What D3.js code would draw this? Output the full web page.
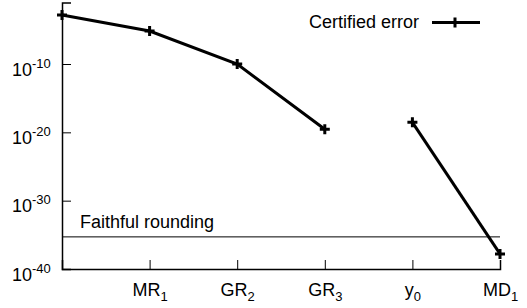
<!DOCTYPE html>
<html>
<head>
<meta charset="utf-8">
<script src="https://cdn.jsdelivr.net/npm/d3@7"></script>
<style>
  body { margin: 0; background: #fff; }
  text { font-family: "Liberation Sans", Arial, sans-serif; }
</style>
</head>
<body>
<script>
// chart data
let catBase = ["", "MR", "GR", "GR", "y", "MD"];
let catSub = ["", "1", "2", "3", "0", "1"];
let certError = [1.5e-3, 6.8e-6, 1e-10, 2.8e-20, 2.9e-19, 1.6e-38];
let segment = [0, 0, 0, 0, 1, 1];
let faithful = 5e-36;
let yTicks = [1e-10, 1e-20, 1e-30, 1e-40];
let yTickExp = ["-10", "-20", "-30", "-40"];

let W = 527, H = 308;
let fs = 18;

let svg = d3.select("body")
  .append("svg")
    .attr("width", W)
    .attr("height", H);

let x = d3.scalePoint()
  .domain(d3.range(catBase.length))
  .range([62, 500]);

let y = d3.scaleLog()
  .domain([1e-40, 1e-1])
  .range([269, 2.5]);

// x axis
let xAxis = svg.append("g")
  .attr("transform", "translate(0," + y(1e-40) + ")")
  .call(d3.axisBottom(x).tickValues(d3.range(1, catBase.length)).tickSize(-9).tickPadding(10).tickFormat(""));

xAxis.selectAll(".tick text").each(function(d) {
  let t = d3.select(this).attr("font-size", fs).attr("fill", "#000").attr("dy", "0.92em");
  t.append("tspan").text(catBase[d]);
  t.append("tspan").attr("font-size", 13).attr("dy", 5).text(catSub[d]);
});

// y axis
let yAxis = svg.append("g")
  .attr("transform", "translate(" + x(0) + ",0)")
  .call(d3.axisLeft(y).tickValues(yTicks).tickSize(-9).tickPadding(17).tickFormat(""));

yAxis.selectAll(".tick text").each(function(d, i) {
  let t = d3.select(this).attr("font-size", fs).attr("fill", "#000").attr("dy", "0.62em")
    .attr("text-anchor", "start").attr("x", -50);
  t.append("tspan").text("10");
  t.append("tspan").attr("font-size", 13).attr("dy", -8).text(yTickExp[i]);
});

svg.selectAll(".domain").attr("stroke", "#000").attr("stroke-width", 1.5);
svg.selectAll(".tick line").attr("stroke", "#000").attr("stroke-width", 1);
yAxis.selectAll(".tick").filter(d => d === 1e-40).select("line").remove();

// faithful rounding
svg.append("line")
  .attr("x1", x(0)).attr("x2", x(catBase.length - 1))
  .attr("y1", y(faithful)).attr("y2", y(faithful))
  .attr("stroke", "#000").attr("stroke-width", 1);

svg.append("text")
  .attr("x", 80).attr("y", y(faithful) - 9)
  .attr("font-size", fs)
  .text("Faithful rounding");

// certified error lines
let pts = certError.map((v, i) => ({ i: i, v: v, s: segment[i] }));
let line = d3.line()
  .x(d => x(d.i))
  .y(d => y(d.v));

d3.groups(pts, d => d.s).forEach(([k, g]) => {
  svg.append("path")
    .attr("d", line(g))
    .attr("fill", "none")
    .attr("stroke", "#000")
    .attr("stroke-width", 3);
});

function drawPlus(cx, cy) {
  svg.append("path")
    .attr("d", "M-5,0H5M0,-5V5")
    .attr("transform", "translate(" + cx + "," + cy + ")")
    .attr("stroke", "#000")
    .attr("stroke-width", 3);
}
pts.forEach(d => drawPlus(x(d.i), y(d.v)));

// legend
svg.append("text")
  .attr("x", 309).attr("y", 28)
  .attr("font-size", fs)
  .text("Certified error");
svg.append("line")
  .attr("x1", 432).attr("x2", 480)
  .attr("y1", 22.5).attr("y2", 22.5)
  .attr("stroke", "#000").attr("stroke-width", 3);
drawPlus(455, 22.5);
</script>
</body>
</html>
